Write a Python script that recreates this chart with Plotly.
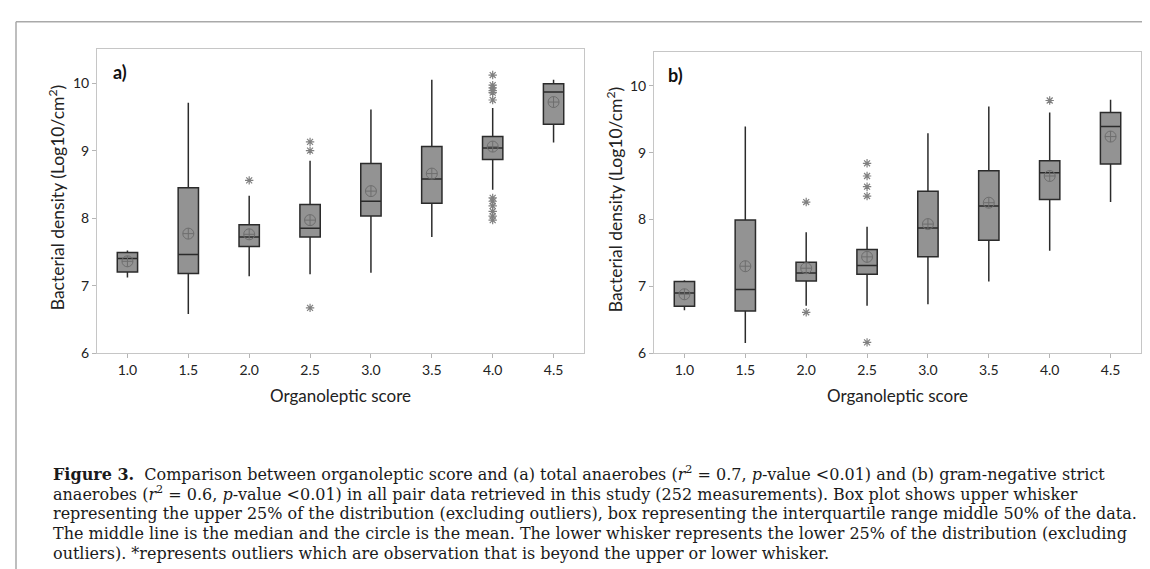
import plotly.graph_objects as go

W, H = 1150, 569

# ---------------- data ----------------
scores = [1.0, 1.5, 2.0, 2.5, 3.0, 3.5, 4.0, 4.5]
tick_text = ["1.0", "1.5", "2.0", "2.5", "3.0", "3.5", "4.0", "4.5"]

# panel a) total anaerobes
a_lower = [7.12, 6.58, 7.14, 7.17, 7.19, 7.72, 8.42, 9.12]
a_q1 = [7.20, 7.18, 7.58, 7.72, 8.03, 8.22, 8.87, 9.39]
a_median = [7.40, 7.46, 7.72, 7.85, 8.25, 8.58, 9.04, 9.87]
a_q3 = [7.49, 8.45, 7.90, 8.20, 8.81, 9.06, 9.21, 9.99]
a_upper = [7.52, 9.71, 8.33, 8.85, 9.61, 10.05, 9.63, 10.05]
a_mean = [7.36, 7.77, 7.76, 7.97, 8.40, 8.66, 9.06, 9.72]
a_out_x = [2.0, 2.5, 2.5, 2.5, 4.0, 4.0, 4.0, 4.0, 4.0, 4.0, 4.0, 4.0, 4.0, 4.0, 4.0, 4.0]
a_out_y = [8.56, 9.13, 9.00, 6.67, 10.12, 9.97, 9.93, 9.89, 9.86, 9.75,
           8.30, 8.25, 8.18, 8.10, 8.03, 7.97]

# panel b) gram-negative strict anaerobes
b_lower = [6.64, 6.15, 6.71, 6.71, 6.73, 7.07, 7.53, 8.26]
b_q1 = [6.70, 6.63, 7.08, 7.18, 7.44, 7.69, 8.30, 8.83]
b_median = [6.90, 6.95, 7.20, 7.31, 7.87, 8.20, 8.70, 9.39]
b_q3 = [7.07, 7.99, 7.36, 7.55, 8.42, 8.73, 8.88, 9.60]
b_upper = [7.09, 9.39, 7.81, 7.89, 9.29, 9.69, 9.60, 9.79]
b_mean = [6.88, 7.30, 7.27, 7.44, 7.93, 8.25, 8.65, 9.24]
b_out_x = [2.0, 2.0, 2.5, 2.5, 2.5, 2.5, 2.5, 4.0]
b_out_y = [8.26, 6.61, 8.84, 8.65, 8.49, 8.35, 6.16, 9.78]

y_ticks = [6, 7, 8, 9, 10]
x_title = "Organoleptic score"
y_title = "Bacterial density (Log10/cm<sup>2</sup>)"
caption_lines = [
    "<b>Figure 3.</b>  Comparison between organoleptic score and (a) total anaerobes (<i>r</i><sup>2</sup> = 0.7, <i>p</i>-value &lt;0.01) and (b) gram-negative strict",
    "anaerobes (<i>r</i><sup>2</sup> = 0.6, <i>p</i>-value &lt;0.01) in all pair data retrieved in this study (252 measurements). Box plot shows upper whisker",
    "representing the upper 25% of the distribution (excluding outliers), box representing the interquartile range middle 50% of the data.",
    "The middle line is the median and the circle is the mean. The lower whisker represents the lower 25% of the distribution (excluding",
    "outliers). *represents outliers which are observation that is beyond the upper or lower whisker.",
]

# ---------------- styles ----------------
SANS = "Lato, 'Open Sans', sans-serif"
SERIF = "'DejaVu Serif', 'Liberation Serif', serif"
BOX_FILL = "#939393"
BOX_LINE = "#2b2b2b"
MARK = "#6e6e6e"

fig = go.Figure()


def add_panel(xa, ya, lower, q1, med, q3, upper, mean, ox, oy):
    fig.add_trace(go.Box(
        x=scores, lowerfence=lower, q1=q1, median=med, q3=q3, upperfence=upper,
        xaxis=xa, yaxis=ya, width=0.167, whiskerwidth=0,
        fillcolor=BOX_FILL, line=dict(color=BOX_LINE, width=1.5),
        boxpoints=False, showlegend=False, hoverinfo="skip"))
    fig.add_trace(go.Scatter(
        x=scores, y=mean, mode="markers", xaxis=xa, yaxis=ya, showlegend=False,
        marker=dict(symbol="circle-cross-open", size=11, color=MARK,
                    line=dict(width=1, color=MARK))))
    fig.add_trace(go.Scatter(
        x=ox, y=oy, mode="markers", xaxis=xa, yaxis=ya, showlegend=False,
        marker=dict(symbol="asterisk-open", size=7, color="#808080",
                    line=dict(width=1.2, color="#808080"))))


add_panel("x", "y", a_lower, a_q1, a_median, a_q3, a_upper, a_mean, a_out_x, a_out_y)
add_panel("x2", "y2", b_lower, b_q1, b_median, b_q3, b_upper, b_mean, b_out_x, b_out_y)


def px(x):
    return x / W


def py(y):
    return 1 - y / H


axis_common = dict(showline=True, mirror=True, linecolor="#c6c6c6", linewidth=1,
                   ticks="outside", ticklen=4, tickcolor="#b5b5b5", showgrid=False,
                   zeroline=False, tickfont=dict(family=SANS, size=14, color="#222"))

fig.update_layout(
    width=W, height=H, margin=dict(l=0, r=0, t=0, b=0),
    paper_bgcolor="white", plot_bgcolor="white",
    xaxis=dict(domain=[px(89), px(576)], range=[0.75, 4.75], tickvals=scores,
               ticktext=tick_text, **axis_common),
    yaxis=dict(domain=[py(350), py(42)], range=[6, 10.5], tickvals=y_ticks, **axis_common),
    xaxis2=dict(domain=[px(646), px(1133)], range=[0.75, 4.75], tickvals=scores,
                ticktext=tick_text, anchor="y2", **axis_common),
    yaxis2=dict(domain=[py(350), py(45)], range=[6, 10.5], tickvals=y_ticks, anchor="x2",
                **axis_common),
)

ann = []
ann.append(dict(x=px(103), y=py(65), text="<b>a)</b>", xanchor="left", yanchor="middle",
                font=dict(family=SANS, size=18, color="#111")))
ann.append(dict(x=px(658), y=py(68), text="<b>b)</b>", xanchor="left", yanchor="middle",
                font=dict(family=SANS, size=18, color="#111")))
for cx in [(89 + 576) / 2, (646 + 1133) / 2]:
    ann.append(dict(x=px(cx), y=py(393), text=x_title, xanchor="center", yanchor="middle",
                    font=dict(family=SANS, size=17, color="#222")))
for cx, cy in [(48, 193), (606, 195)]:
    ann.append(dict(x=px(cx), y=py(cy), text=y_title, textangle=-90, xanchor="center",
                    yanchor="middle", font=dict(family=SANS, size=17.5, color="#222")))
for i, line in enumerate(caption_lines):
    ann.append(dict(x=px(43), y=py(472 + i * 20.3), text=line, xanchor="left",
                    yanchor="middle", font=dict(family=SERIF, size=16, color="#1a1a1a")))
for a in ann:
    a.update(xref="paper", yref="paper", showarrow=False)
fig.update_layout(annotations=ann)

fig.update_layout(shapes=[
    dict(type="line", xref="paper", yref="paper", x0=px(8), x1=1, y0=py(14), y1=py(14),
         line=dict(color="#a9a9a9", width=1.5)),
    dict(type="line", xref="paper", yref="paper", x0=px(8), x1=px(8), y0=py(14), y1=0,
         line=dict(color="#a9a9a9", width=1.5)),
])

fig.write_html("out.html")
